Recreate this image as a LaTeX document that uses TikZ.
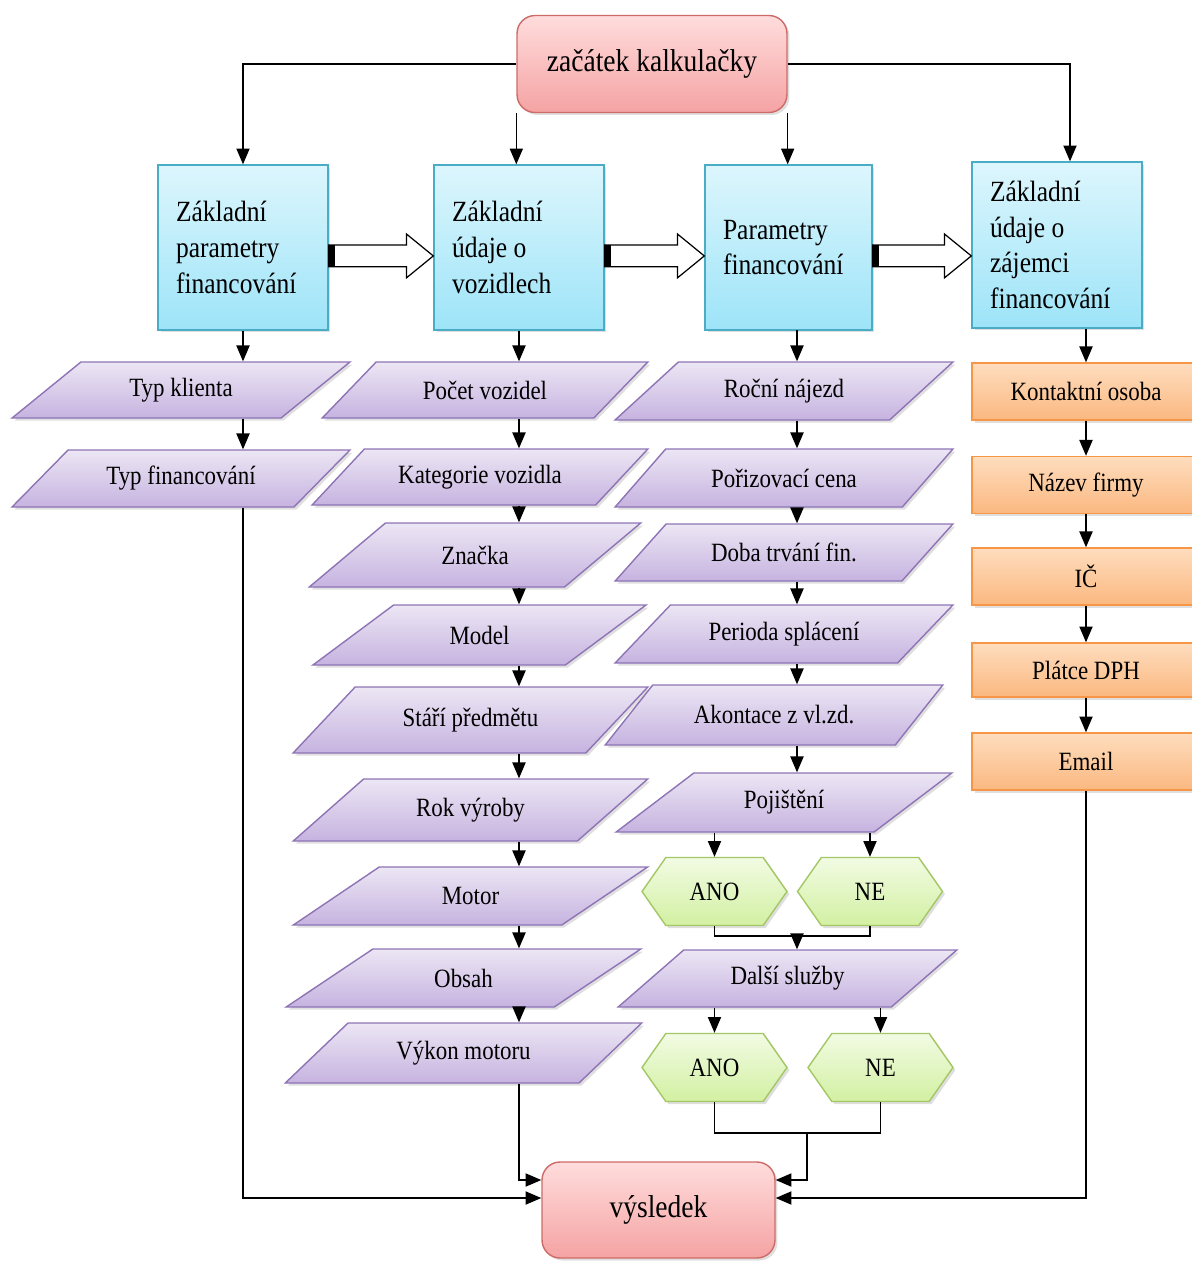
\documentclass[tikz,border=0pt]{standalone}
\usepackage{fontspec}
\setmainfont{Liberation Serif}[FakeStretch=0.87]
\usetikzlibrary{arrows.meta,shapes.geometric,shapes.symbols,shadows,calc}

\definecolor{redtop}{HTML}{FFDCDC}
\definecolor{redbot}{HTML}{F5A3A3}
\definecolor{redline}{HTML}{CD6B68}
\definecolor{bluetop}{HTML}{DDF6FD}
\definecolor{bluebot}{HTML}{9DE4F8}
\definecolor{blueline}{HTML}{4BACC6}
\definecolor{purptop}{HTML}{ECE6F4}
\definecolor{purpbot}{HTML}{C6B3E0}
\definecolor{purpline}{HTML}{8E74B5}
\definecolor{greentop}{HTML}{F2FBE3}
\definecolor{greenbot}{HTML}{D2F0A2}
\definecolor{greenline}{HTML}{A4C766}
\definecolor{orangetop}{HTML}{FEDDBE}
\definecolor{orangebot}{HTML}{FBB880}
\definecolor{orangeline}{HTML}{F79646}

\tikzset{
  boxshadow/.style={drop shadow={opacity=0.25,shadow xshift=0.05cm,shadow yshift=-0.05cm}},
  termbox/.style={boxshadow,draw=redline,line width=0.8pt,rounded corners=0.36cm,
    top color=redtop,bottom color=redbot,minimum width=5.4cm,minimum height=1.94cm,
    font=\fontsize{18}{21}\selectfont},
  catbox/.style={boxshadow,draw=blueline,line width=0.8pt,top color=bluetop,bottom color=bluebot,
    minimum height=3.3cm,text width=2.68cm,inner xsep=0.36cm,align=flush left,
    font=\fontsize{16.7}{20.4}\selectfont},
  datbox/.style={boxshadow,trapezium,trapezium left angle=42,trapezium right angle=138,
    trapezium stretches=true,draw=purpline,line width=0.8pt,top color=purptop,bottom color=purpbot,
    minimum width=6.76cm,minimum height=1.16cm,font=\fontsize{15}{18}\selectfont},
  hexbox/.style={boxshadow,signal,signal to=west and east,signal pointer angle=110,
    draw=greenline,line width=0.8pt,top color=greentop,bottom color=greenbot,
    minimum width=2.9cm,minimum height=1.36cm,font=\fontsize{15}{18}\selectfont},
  orbox/.style={boxshadow,draw=orangeline,line width=0.8pt,top color=orangetop,bottom color=orangebot,
    minimum width=4.56cm,minimum height=1.14cm,font=\fontsize{15}{18}\selectfont}
}

% hollow block arrow between two category boxes
\newcommand\fatarrow[2]{%
  \draw[fill=white,line width=0.7pt] let \p1=(#1.east), \p2=(#2.west) in
    (\x1,\y1+1.4pt) -- (\x2-15.3pt,\y1+1.4pt) -- (\x2-15.3pt,\y1+7.7pt)
    -- (\x2,\y1-4.8pt) -- (\x2-15.3pt,\y1-17.3pt) -- (\x2-15.3pt,\y1-11pt)
    -- (\x1,\y1-11pt) -- cycle;
  \fill let \p1=(#1.east) in (\x1,\y1+1.4pt) rectangle (\x1+3.4pt,\y1-11pt);
}

\begin{document}
\begin{tikzpicture}[x=0.02cm,y=-0.02cm,thick,>={Triangle[length=9pt,width=7.5pt]}]
\useasboundingbox (0,0) rectangle (1192,1262);

% start and end
\node[termbox] (start) at (652,64) {začátek kalkulačky};
\node[termbox,minimum width=4.66cm,minimum height=1.92cm] (res) at (658.5,1210) {výsledek};

% four categories
\node[catbox] (b1) at (243,247.5) {Základní\\parametry\\financování};
\node[catbox] (b2) at (519,247.5) {Základní\\údaje o\\vozidlech};
\node[catbox,text width=2.62cm] (b3) at (788.5,247.5) {Parametry\\financování};
\node[catbox,minimum height=3.32cm] (b4) at (1057,245) {Základní\\údaje o\\zájemci\\financování};

% client and financing type
\node[datbox,minimum height=1.12cm] (tk) at (181,390) {Typ klienta};
\node[datbox,minimum height=1.14cm] (tf) at (181,478.5) {Typ financování};

% vehicle
\node[datbox,minimum width=6.52cm,minimum height=1.12cm] (pv) at (485,390) {Počet vozidel};
\node[datbox,minimum width=6.72cm,minimum height=1.12cm] (kv) at (480,477) {Kategorie vozidla};
\node[datbox,minimum width=6.68cm,minimum height=1.28cm] (zn) at (475,555) {Značka};
\node[datbox,minimum width=6.7cm,minimum height=1.2cm] (md) at (479.5,635) {Model};
\node[datbox,minimum width=7.1cm,minimum height=1.32cm] (sp) at (470.5,720) {Stáří předmětu};
\node[datbox,minimum width=7.1cm,minimum height=1.24cm] (rv) at (470.5,810) {Rok výroby};
\node[datbox,minimum width=7.1cm] (mt) at (470.5,896) {Motor};
\node[datbox,minimum width=7.14cm] (ob) at (463.5,978) {Obsah};
\node[datbox,minimum width=7.14cm,minimum height=1.2cm] (vm) at (463.5,1053) {Výkon motoru};

% financing parameters
\node[datbox] (rn) at (784,391) {Roční nájezd};
\node[datbox] (pc) at (784,478) {Pořizovací cena};
\node[datbox,minimum height=1.14cm] (dt) at (784,552.5) {Doba trvání fin.};
\node[datbox] (ps) at (784,634) {Perioda splácení};
\node[datbox,minimum height=1.2cm] (ak) at (774,715) {Akontace z vl.zd.};
\node[datbox,minimum height=1.18cm] (pj) at (784,802.5) {Pojištění};
\node[hexbox] (ano1) at (714.5,891.5) {ANO};
\node[hexbox] (ne1) at (870,891.5) {NE};
\node[datbox,minimum width=6.78cm,minimum height=1.14cm] (ds) at (787.5,978.5) {Další služby};
\node[hexbox] (ano2) at (714.5,1067.5) {ANO};
\node[hexbox] (ne2) at (880.5,1067.5) {NE};

% applicant
\node[orbox] (ko) at (1086,391.5) {Kontaktní osoba};
\node[orbox] (nf) at (1086,485) {Název firmy};
\node[orbox] (ic) at (1086,576.5) {IČ};
\node[orbox,minimum height=1.08cm] (pd) at (1086,670) {Plátce DPH};
\node[orbox] (em) at (1086,761.5) {Email};

\coordinate (ax3) at (797,330);
\coordinate (jn1) at (797,936);
\coordinate (jn2) at (807,1133);

% from start
\draw[->] (start.west) -| (b1.north);
\draw[->] (start.south west) -- (start.south west |- b2.north);
\draw[->] (start.south east) -- (start.south east |- b3.north);
\draw[->] (start.east) -| ([xshift=0.26cm]b4.north);

\fatarrow{b1}{b2}
\fatarrow{b2}{b3}
\fatarrow{b3}{b4}

% column 1
\draw[->] (b1.south) -- (b1.south |- tk.north);
\draw[->] (tk.south -| b1) -- (tf.north -| b1);
\draw[->] (tf.south -| b1) |- ([yshift=0.24cm]res.west);

% column 2
\draw[->] (b2.south) -- (b2.south |- pv.north);
\foreach \a/\b in {pv/kv,kv/zn,zn/md,md/sp,sp/rv,rv/mt,mt/ob,ob/vm}
  \draw[->] (\a.south -| b2) -- (\b.north -| b2);
\draw[->] (vm.south -| b2) |- ([yshift=0.6cm]res.west);

% column 3
\draw[->] (ax3) -- (ax3 |- rn.north);
\foreach \a/\b in {rn/pc,pc/dt,dt/ps,ps/ak,ak/pj}
  \draw[->] (\a.south -| ax3) -- (\b.north -| ax3);
\draw[->] (pj.south -| ano1) -- (ano1.north);
\draw[->] (pj.south -| ne1) -- (ne1.north);
\draw (ano1.south) |- (jn1) -| (ne1.south);
\draw[->] (jn1) -- (jn1 |- ds.north);
\draw[->] (ds.south -| ano2) -- (ano2.north);
\draw[->] (ds.south -| ne2) -- (ne2.north);
\draw (ano2.south) |- (jn2) -| (ne2.south);
\draw[->] (jn2) |- ([yshift=0.6cm]res.east);

% column 4
\draw[->] (b4.south -| ko) -- (ko.north);
\foreach \a/\b in {ko/nf,nf/ic,ic/pd,pd/em}
  \draw[->] (\a) -- (\b);
\draw[->] (em.south) |- ([yshift=0.24cm]res.east);
\end{tikzpicture}
\end{document}
